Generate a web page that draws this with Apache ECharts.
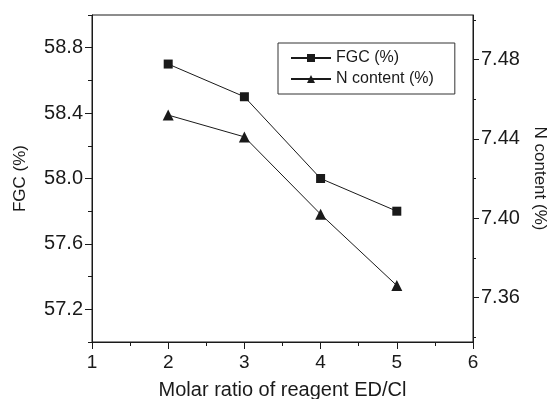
<!DOCTYPE html>
<html>
<head>
<meta charset="utf-8">
<script src="https://cdn.jsdelivr.net/npm/echarts@6/dist/echarts.min.js"></script>
<style>
  html, body { margin: 0; padding: 0; background: #fff; }
  #main { width: 550px; height: 399px; }
</style>
</head>
<body>
<div id="main"></div>
<script>
// 数据
const ratio = [2, 3, 4, 5]
const fgc = [58.7, 58.5, 58.0, 57.8]
const nContent = [7.452, 7.441, 7.402, 7.366]
// 刻度
const fgcTicks = [57.2, 57.6, 58.0, 58.4, 58.8]
const fgcMinor = [57.0, 57.4, 57.8, 58.2, 58.6, 59.0]
const nTicks = [7.36, 7.40, 7.44, 7.48]
const nMinor = [7.34, 7.38, 7.42, 7.46, 7.50]

const font = 'Liberation Sans, Arial, Helvetica, sans-serif'
const ink = '#1a1a1a'

const chart = echarts.init(document.getElementById('main'))

const option = {
  backgroundColor: '#ffffff',
  animation: false,
  textStyle: { fontFamily: font },
  grid: {
    left: 92,
    right: 77,
    top: 15,
    bottom: 57,
    outerBoundsMode: 'none',
    containLabel: false,
    show: true,
    borderColor: ink,
    borderWidth: 1
  },
  legend: {
    orient: 'vertical',
    left: 278,
    top: 43,
    padding: [7, 21, 7, 12],
    itemGap: 5,
    itemWidth: 40,
    itemHeight: 10,
    borderColor: '#333',
    borderWidth: 1,
    textStyle: { fontFamily: font, fontSize: 16, color: ink }
  },
  xAxis: {
    type: 'value',
    min: 1,
    max: 6,
    interval: 1,
    name: 'Molar ratio of reagent ED/Cl',
    nameLocation: 'middle',
    nameGap: 38,
    nameTextStyle: { fontFamily: font, fontSize: 20, color: ink },
    axisLine: { lineStyle: { color: ink, width: 1 } },
    axisTick: { length: 7, lineStyle: { color: ink } },
    minorTick: { show: true, splitNumber: 2, length: 4, lineStyle: { color: ink } },
    axisLabel: { fontFamily: font, fontSize: 19, color: ink, margin: 11 },
    splitLine: { show: false }
  },
  yAxis: [{
    type: 'value',
    position: 'left',
    min: 57,
    max: 59,
    name: 'FGC (%)',
    nameLocation: 'middle',
    nameGap: 63,
    nameTextStyle: { fontFamily: font, fontSize: 17, color: ink },
    axisLine: { show: true, lineStyle: { color: ink, width: 1 } },
    axisTick: { show: true, length: 7, customValues: fgcTicks, lineStyle: { color: ink } },
    axisLabel: {
      fontFamily: font, fontSize: 20, color: ink, margin: 9,
      customValues: fgcTicks,
      formatter: v => v.toFixed(1)
    },
    splitLine: { show: false }
  }, {
    type: 'value',
    position: 'right',
    min: 7.3375,
    max: 7.5025,
    name: 'N content (%)',
    nameLocation: 'middle',
    nameRotate: -90,
    nameGap: 58,
    nameTextStyle: { fontFamily: font, fontSize: 17, color: ink },
    axisLine: { show: true, lineStyle: { color: ink, width: 1 } },
    axisTick: { show: true, length: 6, customValues: nTicks, lineStyle: { color: ink } },
    axisLabel: {
      fontFamily: font, fontSize: 20, color: ink, margin: 8,
      customValues: nTicks,
      formatter: v => v.toFixed(2)
    },
    splitLine: { show: false }
  }, {
    // 左侧次刻度
    type: 'value',
    position: 'left',
    min: 57,
    max: 59,
    axisLine: { show: false },
    axisTick: { show: true, length: 4, customValues: fgcMinor, lineStyle: { color: ink } },
    axisLabel: { show: false },
    splitLine: { show: false }
  }, {
    // 右侧次刻度
    type: 'value',
    position: 'right',
    min: 7.3375,
    max: 7.5025,
    axisLine: { show: false },
    axisTick: { show: true, length: 3, customValues: nMinor, lineStyle: { color: ink } },
    axisLabel: { show: false },
    splitLine: { show: false }
  }],
  series: [{
    name: 'FGC (%)',
    type: 'line',
    yAxisIndex: 0,
    data: ratio.map((x, i) => [x, fgc[i]]),
    symbol: 'rect',
    symbolSize: 9,
    itemStyle: { color: ink },
    lineStyle: { color: ink, width: 1 }
  }, {
    name: 'N content (%)',
    type: 'line',
    yAxisIndex: 1,
    data: ratio.map((x, i) => [x, nContent[i]]),
    symbol: 'triangle',
    symbolSize: 11,
    itemStyle: { color: ink },
    lineStyle: { color: ink, width: 1 }
  }]
}

chart.setOption(option)
</script>
</body>
</html>
